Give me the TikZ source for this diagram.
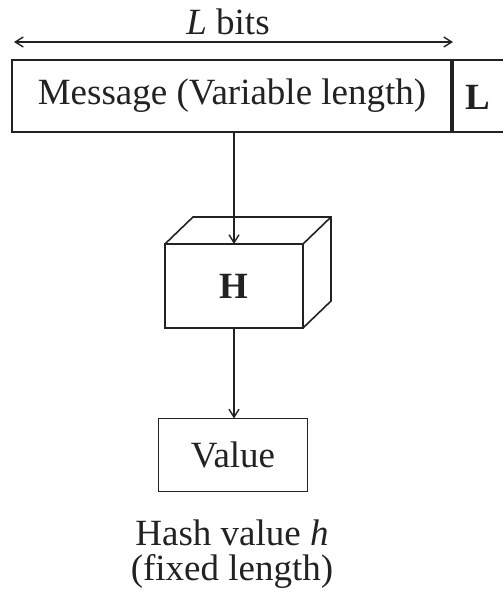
\documentclass[tikz,border=0pt]{standalone}
\usepackage{fontspec}
\setmainfont{Liberation Serif}
\usetikzlibrary{calc,arrows.meta}
\usepackage{xcolor}
\definecolor{inkgray}{HTML}{222222}

\tikzset{
  box/.style={draw=inkgray, line width=0.8pt, inner sep=0pt, outer sep=0pt, text=inkgray},
  flow/.style={draw=inkgray, line width=0.7pt, -{Straight Barb[length=4pt,width=5pt]}},
  lbl/.style={text=inkgray, inner sep=0pt}
}

\begin{document}
\begin{tikzpicture}[x=0.5pt, y=-0.5pt, font=\fontsize{18.5}{17.5}\selectfont]
  \useasboundingbox (0,0) rectangle (503,598);

  % message block with length field
  \node[box, minimum width=220pt, minimum height=36pt] (msg) at (232,96) {Message (Variable length)};
  \coordinate (lend top) at (503,60);
  \coordinate (lend bot) at (503,132);
  \draw[inkgray, line width=0.8pt] (msg.north east) -- (lend top);
  \draw[inkgray, line width=0.8pt] (msg.south east) -- (lend bot);
  \draw[inkgray, line width=2pt] (msg.north east) -- (msg.south east);
  \node[lbl, font=\fontsize{18.5}{17.5}\selectfont\bfseries] (lfield) at (478,97) {L};

  % length arrow
  \coordinate (bits left) at (14,42);
  \coordinate (bits right) at (453,42);
  \draw[inkgray, line width=0.7pt, {Straight Barb[length=4pt,width=5pt]}-{Straight Barb[length=4pt,width=5pt]}] (bits left) -- (bits right);
  \node[lbl] (bits) at (228,22) {\textit{L} bits};

  % hash function as a box in 3D
  \node[box, minimum width=69pt, minimum height=42pt, font=\fontsize{18.5}{17.5}\selectfont\bfseries] (hash) at (234,286) {H};
  \draw[inkgray, line width=0.8pt] (hash.north west) -- ++(28,-27) -| ($(hash.south east)+(28,-27)$) -- (hash.south east);
  \draw[inkgray, line width=0.8pt] (hash.north east) -- ++(28,-27);

  % output
  \node[box, minimum width=74.5pt, minimum height=36.5pt] (val) at (233,455) {Value};
  \node[lbl, align=center] (hval) at (232,554) {Hash value \textit{h}\\(fixed length)};

  \draw[flow] (msg.south -| hash.north) -- (hash.north);
  \draw[flow] (hash.south) -- (val.north -| hash.south);
\end{tikzpicture}
\end{document}
